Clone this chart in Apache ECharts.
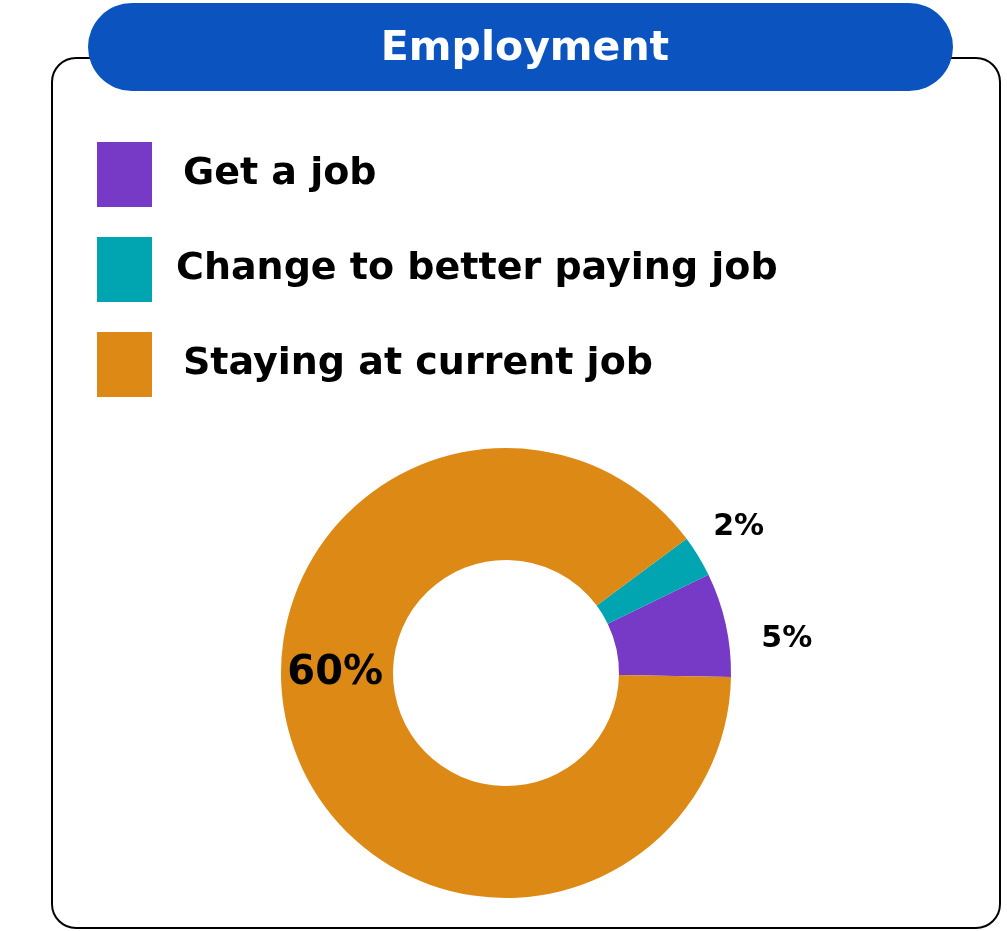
<!DOCTYPE html>
<html>
<head>
<meta charset="utf-8">
<title>Employment</title>
<script src="https://cdn.jsdelivr.net/npm/echarts@6/dist/echarts.min.js"></script>
<style>
  html, body { margin: 0; padding: 0; background: #ffffff; }
  #chart { width: 1007px; height: 931px; }
</style>
</head>
<body>
<div id="chart"></div>
<script>
// Employment outcomes (percent of respondents)
const categories = ['Get a job', 'Change to better paying job', 'Staying at current job'];
const values = [5, 2, 60];
const colors = ['#763AC6', '#01A4B1', '#DC8A15'];
const valueLabels = ['5%', '2%', '60%'];
const titleText = 'Employment';

const FONT = '"DejaVu Sans", "Noto Sans", sans-serif';

// per-slice label placement tweaks
const labelStyles = [
  { position: 'outside', fontSize: 30, offset: [6, 18] },
  { position: 'outside', fontSize: 30, offset: [-13, -21] },
  { position: 'inside', fontSize: 40, offset: [-7, -52] }
];
// legend text indents (second entry sits slightly further left)
const legendIndent = [26, 19, 26];

const chart = echarts.init(document.getElementById('chart'), null, { renderer: 'canvas' });

const pieData = categories.map((name, i) => ({
  name,
  value: values[i],
  itemStyle: { color: colors[i] },
  label: Object.assign({
    show: true,
    formatter: valueLabels[i],
    color: '#000',
    fontFamily: FONT,
    fontWeight: 'bold',
    rotate: 0
  }, labelStyles[i])
}));

chart.setOption({
  animation: false,
  backgroundColor: '#ffffff',
  title: {
    text: titleText,
    left: 520,
    top: 19,
    textAlign: 'center',
    textStyle: { color: '#ffffff', fontSize: 41, lineHeight: 50, fontWeight: 'bold', fontFamily: FONT }
  },
  graphic: [
    {
      type: 'rect', z: 0,
      shape: { x: 52, y: 58, width: 948, height: 870, r: 24 },
      style: { fill: '#ffffff', stroke: '#000000', lineWidth: 2 }
    },
    {
      type: 'rect', z: 1,
      shape: { x: 88, y: 3, width: 865, height: 88, r: 44 },
      style: { fill: '#0B54BF' }
    }
  ],
  legend: {
    orient: 'vertical',
    left: 97,
    top: 142,
    padding: 0,
    itemWidth: 55,
    itemHeight: 65,
    itemGap: 30,
    icon: 'rect',
    selectedMode: false,
    data: categories.map((name, i) => ({
      name,
      textStyle: {
        color: '#000',
        fontSize: 38,
        fontWeight: 'bold',
        fontFamily: FONT,
        padding: [2, 0, 0, legendIndent[i]]
      }
    }))
  },
  series: [{
    type: 'pie',
    z: 5,
    center: [506, 673],
    radius: [113, 225],
    startAngle: -1,
    clockwise: false,
    avoidLabelOverlap: false,
    labelLine: { show: false, length: 15, length2: 10 },
    itemStyle: { borderWidth: 0 },
    emphasis: { disabled: true },
    data: pieData
  }]
});
</script>
</body>
</html>
